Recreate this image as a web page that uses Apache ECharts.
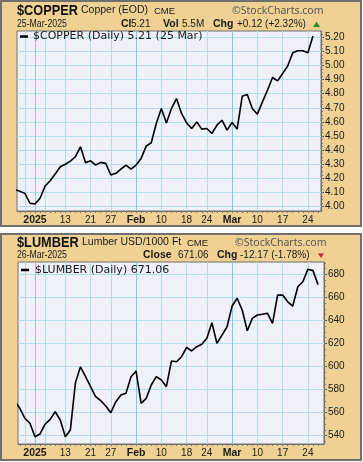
<!DOCTYPE html>
<html><head><meta charset="utf-8">
<script src="https://cdn.jsdelivr.net/npm/echarts@6/dist/echarts.min.js"></script>
<style>html,body{margin:0;padding:0;background:#fff}#c{width:363px;height:462px}</style>
</head><body><div id="c"></div>
<script>
// ---------- data ----------
const tradingDays = ['2024-12-26','2024-12-27','2024-12-30','2024-12-31','2025-01-02','2025-01-03','2025-01-06','2025-01-07','2025-01-08','2025-01-10','2025-01-13','2025-01-14','2025-01-15','2025-01-16','2025-01-17','2025-01-21','2025-01-22','2025-01-23','2025-01-24','2025-01-27','2025-01-28','2025-01-29','2025-01-30','2025-01-31','2025-02-03','2025-02-04','2025-02-05','2025-02-06','2025-02-07','2025-02-10','2025-02-11','2025-02-12','2025-02-13','2025-02-14','2025-02-18','2025-02-19','2025-02-20','2025-02-21','2025-02-24','2025-02-25','2025-02-26','2025-02-27','2025-02-28','2025-03-03','2025-03-04','2025-03-05','2025-03-06','2025-03-07','2025-03-10','2025-03-11','2025-03-12','2025-03-13','2025-03-14','2025-03-17','2025-03-18','2025-03-19','2025-03-20','2025-03-21','2025-03-24','2025-03-25','2025-03-26'];
const copperValues = [4.12,4.108,4.093,4.023,4.018,4.058,4.145,4.183,4.23,4.282,4.30,4.322,4.353,4.423,4.31,4.324,4.294,4.313,4.306,4.223,4.235,4.265,4.294,4.265,4.294,4.341,4.428,4.452,4.589,4.695,4.593,4.695,4.766,4.66,4.593,4.553,4.60,4.549,4.553,4.518,4.577,4.612,4.542,4.596,4.549,4.782,4.794,4.695,4.655,4.742,4.825,4.915,4.891,4.943,4.997,5.09,5.105,5.105,5.09,5.21];
const lumberValues = [570,563.8,555.1,550.8,539.1,541.5,550.1,554.2,560.8,553.6,539.1,545,586,599.8,591.2,582.5,573.8,570.4,565.8,560,569.5,575.3,576.8,591.2,596,568.1,572.4,584,591.2,588.3,582.5,604.8,604.2,608.5,616.7,613.5,617.2,619.3,624.5,638,620.1,627.3,634.5,652.5,659.2,649,631.1,641.8,644.7,645.3,646.2,637.5,662,662,656.2,652.5,669.2,673.6,684.5,683.23,671.06];
const copperYTicks = [4.00,4.10,4.20,4.30,4.40,4.50,4.60,4.70,4.80,4.90,5.00,5.10,5.20];
const lumberYTicks = [540,560,580,600,620,640,660,680];
const weekGridDates = ['2024-12-30','2025-01-06','2025-01-13','2025-01-21','2025-01-27','2025-02-10','2025-02-18','2025-02-24','2025-03-10','2025-03-17','2025-03-24'];
const monthGridDates = ['2025-01-02','2025-02-03','2025-03-03'];
const xLabelDates = ['2025-01-02','2025-01-13','2025-01-21','2025-01-27','2025-02-03','2025-02-10','2025-02-18','2025-02-24','2025-03-03','2025-03-10','2025-03-17','2025-03-24'];
const xLabels = ['2025','13','21','27','Feb','10','18','24','Mar','10','17','24'];
const boldLabels = ['2025','Feb','Mar'];

// ---------- helpers ----------
const idx = d => tradingDays.indexOf(d);
const weekIdx = weekGridDates.map(idx);
const monthIdx = monthGridDates.map(idx);
const labelIdx = xLabelDates.map(idx);
const labelMap = {};
labelIdx.forEach((v, k) => labelMap[v] = xLabels[k]);
const dayIdx = tradingDays.map((d, i) => i);
function minorTicks(arr, n) {
  const out = [];
  const step = (arr[1] - arr[0]) / n;
  for (let v = arr[0] - step * n; v <= arr[arr.length - 1] + step * n + 1e-9; v += step) out.push(+v.toFixed(4));
  return out;
}

const TAN = '#F0D194', PLOT = '#EFF0F8', GRID = '#B2DEEC', MONTH = '#86C8E2', BORDER = '#6f6f6f', TXT = '#1a1a1a';
const AX_FONT = '"Liberation Sans", Arial, sans-serif';

const panels = [
  { grid: { left: 17, top: 31, width: 304, height: 180 }, xmin: 0.438, xmax: 60.59, ymin: 3.968, ymax: 5.245, yTicks: copperYTicks, dec: 2, data: copperValues },
  { grid: { left: 18, top: 262, width: 306, height: 182 }, xmin: 0.636, xmax: 61.18, ymin: 532.8, ymax: 690.7, yTicks: lumberYTicks, dec: 0, data: lumberValues }
];

const grids = [], xAxes = [], yAxes = [], series = [];
panels.forEach((p, g) => {
  grids.push(Object.assign({ show: true, backgroundColor: PLOT, borderColor: BORDER, borderWidth: 1 }, p.grid));
  xAxes.push({
    type: 'value', gridIndex: g, min: p.xmin, max: p.xmax, position: 'bottom',
    axisLine: { show: true, lineStyle: { color: BORDER, width: 1 } },
    axisTick: { show: false, customValues: weekIdx },
    splitLine: { show: true, lineStyle: { color: GRID, width: 1 } },
    axisLabel: {
      customValues: labelIdx, margin: 4, color: TXT, fontSize: 10, fontFamily: AX_FONT,
      formatter: v => { const s = labelMap[Math.round(v)] || ''; return boldLabels.includes(s) ? '{b|' + s + '}' : s; },
      rich: { b: { fontWeight: 'bold', fontSize: 10.5, fontFamily: AX_FONT, color: TXT } }
    }
  });
  xAxes.push({
    type: 'value', gridIndex: g, min: p.xmin, max: p.xmax, position: 'bottom',
    axisLine: { show: false }, axisLabel: { show: false },
    axisTick: { show: false, customValues: monthIdx },
    splitLine: { show: true, lineStyle: { color: MONTH, width: 1 } }
  });
  xAxes.push({
    type: 'value', gridIndex: g, min: p.xmin, max: p.xmax, position: 'bottom',
    axisLine: { show: false }, axisLabel: { show: false }, splitLine: { show: false },
    axisTick: { show: true, customValues: dayIdx, length: 2, lineStyle: { color: '#777', width: 1 } }
  });
  yAxes.push({
    type: 'value', gridIndex: g, min: p.ymin, max: p.ymax, position: 'right',
    axisLine: { show: true, lineStyle: { color: BORDER, width: 1 } },
    axisTick: { show: true, customValues: p.yTicks, length: 3, lineStyle: { color: '#444' } },
    splitLine: { show: true, lineStyle: { color: GRID, width: 1 } },
    axisLabel: { customValues: p.yTicks, margin: 4, color: TXT, fontSize: 10, fontFamily: AX_FONT,
      formatter: v => (+v).toFixed(p.dec) }
  });
  yAxes.push({
    type: 'value', gridIndex: g, min: p.ymin, max: p.ymax, position: 'right',
    axisLine: { show: false }, axisLabel: { show: false }, splitLine: { show: false },
    axisTick: { show: true, customValues: minorTicks(p.yTicks, 4).filter(v => v > p.ymin && v < p.ymax), length: 2, lineStyle: { color: '#777' } }
  });
  series.push({
    type: 'line', xAxisIndex: g * 3, yAxisIndex: g * 2, showSymbol: false, symbol: 'none', clip: true,
    lineStyle: { color: '#000', width: 1.6 }, animation: false,
    data: p.data.map((v, i) => [i, v])
  });
});

function txt(x, y, text, font, fill, extra) {
  return Object.assign({ type: 'text', x, y, z: 100, style: { text, font, fill: fill || TXT, textVerticalAlign: 'middle', textAlign: 'left' } }, extra || {});
}
const LS = '"Liberation Sans", Arial, sans-serif';
const DJ = '"DejaVu Sans", sans-serif';
const graphics = [
  { type: 'rect', z: -10, shape: { x: 1, y: 1, width: 360, height: 225 }, style: { fill: TAN, stroke: BORDER, lineWidth: 2 } },
  { type: 'rect', z: -10, shape: { x: 1, y: 234, width: 360, height: 226 }, style: { fill: TAN, stroke: BORDER, lineWidth: 2 } },
  // top header
  txt(17, 10.5, '$COPPER', 'bold 15px ' + LS, '#111', { scaleX: 0.85, originX: 0 }),
  txt(81, 10.5, 'Copper (EOD)', '10.5px ' + LS),
  txt(154, 11, 'CME', '9.5px ' + LS),
  txt(232, 11, '©StockCharts.com', '10.5px "Noto Sans", sans-serif', '#555'),
  txt(17, 24, '25-Mar-2025', '10px ' + LS, TXT, { scaleX: 0.87, originX: 0 }),
  txt(121, 24, 'Cl', 'bold 10.5px ' + LS),
  txt(131, 24, '5.21', '10px ' + LS),
  txt(163, 24, 'Vol', 'bold 10.5px ' + LS),
  txt(182, 24, '5.5M', '10px ' + LS),
  txt(213, 24, 'Chg', 'bold 10.5px ' + LS),
  txt(237, 24, '+0.12 (+2.32%)', '10px ' + LS),
  { type: 'polygon', z: 100, shape: { points: [[313, 27], [320, 27], [316.5, 21.5]] }, style: { fill: '#2E8B2E' } },
  { type: 'line', z: 100, shape: { x1: 20, y1: 36.5, x2: 28, y2: 36.5 }, style: { stroke: '#000', lineWidth: 2.5 } },
  txt(33, 36.5, '$COPPER (Daily) 5.21 (25 Mar)', '11px ' + DJ),
  // bottom header
  txt(17, 242.5, '$LUMBER', 'bold 15px ' + LS, '#111', { scaleX: 0.85, originX: 0 }),
  txt(82, 242.5, 'Lumber USD/1000 Ft', '10.5px ' + LS),
  txt(187, 243, 'CME', '9.5px ' + LS),
  txt(235, 243, '©StockCharts.com', '10.5px "Noto Sans", sans-serif', '#555'),
  txt(17, 255.5, '26-Mar-2025', '10px ' + LS, TXT, { scaleX: 0.87, originX: 0 }),
  txt(143, 255.5, 'Close', 'bold 10.5px ' + LS),
  txt(178, 255.5, '671.06', '10px ' + LS),
  txt(217, 255.5, 'Chg', 'bold 10.5px ' + LS),
  txt(240, 255.5, '-12.17 (-1.78%)', '10px ' + LS),
  { type: 'polygon', z: 100, shape: { points: [[318, 253.5], [324, 253.5], [321, 258]] }, style: { fill: '#C0282F' } },
  { type: 'line', z: 100, shape: { x1: 21, y1: 270, x2: 29, y2: 270 }, style: { stroke: '#000', lineWidth: 2.5 } },
  txt(35, 270, '$LUMBER (Daily) 671.06', '11px ' + DJ)
];

const chart = echarts.init(document.getElementById('c'), null, { renderer: 'canvas' });
chart.setOption({
  animation: false,
  backgroundColor: '#fff',
  grid: grids, xAxis: xAxes, yAxis: yAxes, series,
  graphic: { elements: graphics }
});
</script></body></html>
